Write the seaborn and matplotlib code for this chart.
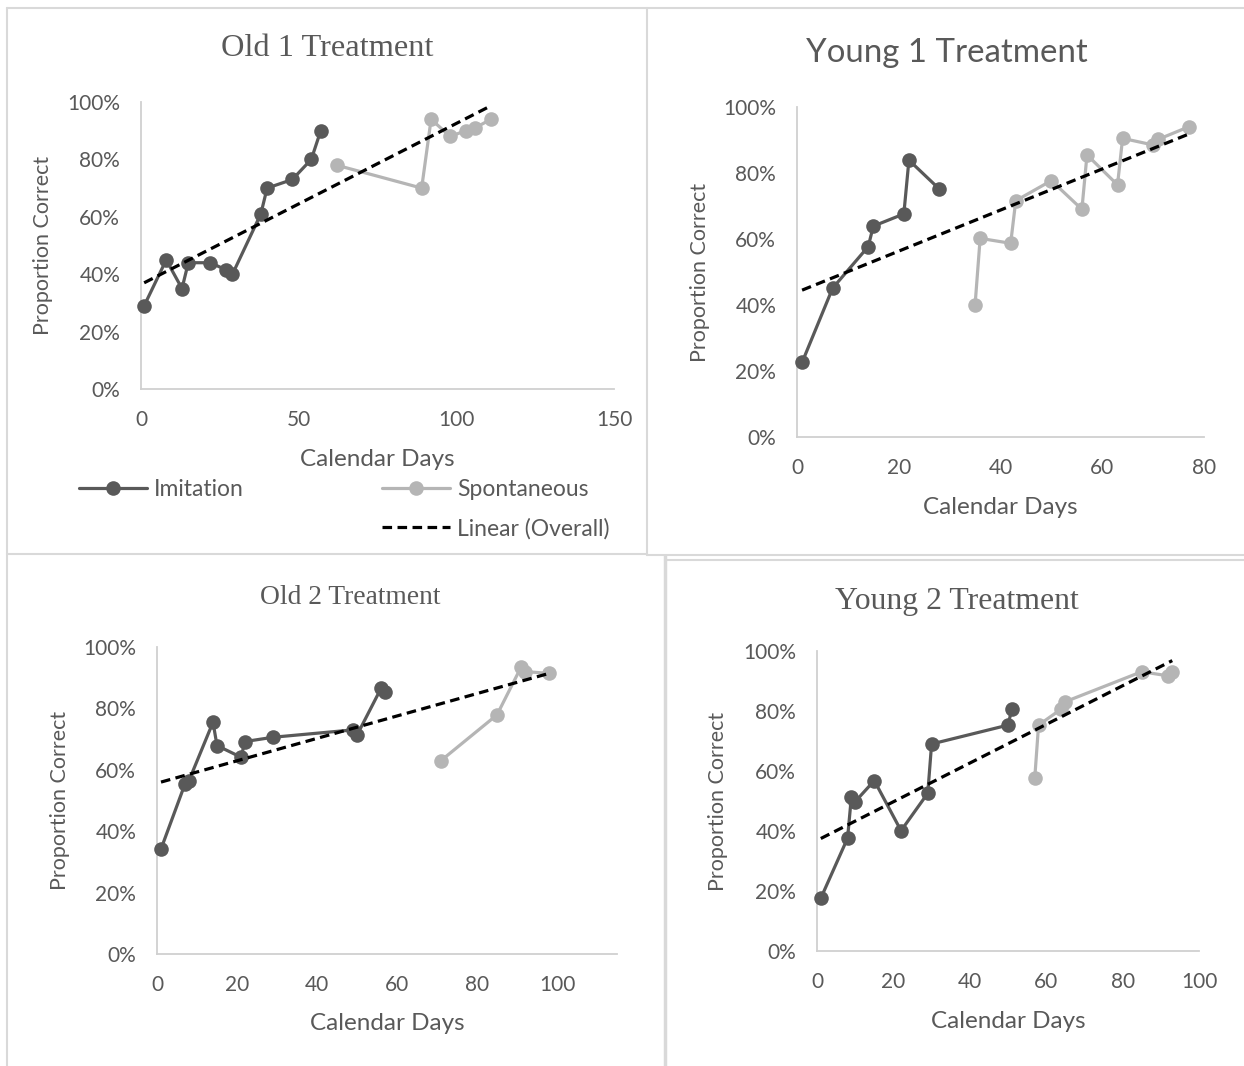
import matplotlib
matplotlib.use("Agg")
import matplotlib.pyplot as plt
import matplotlib.ticker as mticker
from matplotlib.lines import Line2D
import seaborn as sns

# ---------------- data ----------------
old1_imit_days = [1, 8, 13, 15, 22, 27, 29, 38, 40, 48, 54, 57]
old1_imit = [0.29, 0.45, 0.35, 0.44, 0.44, 0.415, 0.40, 0.61, 0.70, 0.73, 0.80, 0.90]
old1_spont_days = [62, 89, 92, 98, 103, 106, 111]
old1_spont = [0.78, 0.70, 0.94, 0.88, 0.90, 0.91, 0.94]
old1_trend_days = [1, 111]
old1_trend = [0.37, 0.987]

young1_imit_days = [1, 7, 14, 15, 21, 22, 28]
young1_imit = [0.226, 0.451, 0.577, 0.639, 0.676, 0.839, 0.751]
young1_spont_days = [35, 36, 42, 43, 50, 56, 57, 63, 64, 70, 71, 77]
young1_spont = [0.40, 0.602, 0.587, 0.716, 0.777, 0.69, 0.855, 0.764, 0.905, 0.885, 0.902, 0.94]
young1_trend_days = [1, 77]
young1_trend = [0.445, 0.918]

old2_imit_days = [1, 7, 8, 14, 15, 21, 22, 29, 49, 50, 56, 57]
old2_imit = [0.342, 0.554, 0.565, 0.755, 0.679, 0.641, 0.692, 0.706, 0.73, 0.713, 0.865, 0.854]
old2_spont_days = [71, 85, 91, 92, 98]
old2_spont = [0.63, 0.779, 0.934, 0.92, 0.914]
old2_trend_days = [1, 98]
old2_trend = [0.56, 0.914]

young2_imit_days = [1, 8, 9, 10, 15, 22, 29, 30, 50, 51]
young2_imit = [0.176, 0.376, 0.514, 0.498, 0.568, 0.401, 0.526, 0.69, 0.753, 0.806]
young2_spont_days = [57, 58, 64, 65, 85, 92, 93]
young2_spont = [0.576, 0.753, 0.807, 0.831, 0.931, 0.917, 0.931]
young2_trend_days = [1, 93]
young2_trend = [0.375, 0.968]

titles = ["Old 1 Treatment", "Young 1 Treatment", "Old 2 Treatment", "Young 2 Treatment"]
legend_labels = ["Imitation", "Spontaneous", "Linear (Overall)"]
x_label = "Calendar Days"
y_label = "Proportion Correct"

# ---------------- style ----------------
sns.set_style("white")
plt.rcParams["font.family"] = ["Lato", "DejaVu Sans"]

W, H = 1244, 1066
fig = plt.figure(figsize=(W / 100, H / 100), dpi=100)

IMIT_C = "#595959"
SPONT_C = "#b5b5b5"
TEXT_C = "#595959"
SPINE_C = "#d0d0d0"
BORDER_C = "#d9d9d9"
SANS = ["Lato", "DejaVu Sans"]
SERIF = ["Liberation Serif", "DejaVu Serif"]


def add_ax(left, right, top, bottom):
    return fig.add_axes([left / W, 1 - bottom / H, (right - left) / W, (bottom - top) / H])


def style_panel(ax, px, xlim, xticks, title, title_font, title_size, title_xy,
                xlabel_y, ylabel_x):
    left, right, top, bottom = px
    ax.set_xlim(*xlim)
    ax.set_ylim(0, 1)
    ax.set_xticks(xticks)
    ax.set_yticks([0, 0.2, 0.4, 0.6, 0.8, 1.0])
    ax.yaxis.set_major_formatter(mticker.PercentFormatter(1.0, decimals=0))
    for s in ["top", "right"]:
        ax.spines[s].set_visible(False)
    for s in ["left", "bottom"]:
        ax.spines[s].set_color(SPINE_C)
        ax.spines[s].set_linewidth(1.3)
    ax.tick_params(axis="both", length=0, labelsize=15, labelcolor=TEXT_C, pad=15)
    for lab in ax.get_xticklabels() + ax.get_yticklabels():
        lab.set_family(SANS)
    ax.set_xlabel(x_label, fontsize=17.5, color=TEXT_C, family=SANS, va="center")
    ax.set_ylabel(y_label, fontsize=15.5, color=TEXT_C, family=SANS, va="center")
    ax.xaxis.set_label_coords(0.5, (bottom - xlabel_y) / (bottom - top))
    ax.yaxis.set_label_coords((ylabel_x - left) / (right - left), 0.5)
    tx, ty = title_xy
    ax.text((tx - left) / (right - left), (bottom - ty) / (bottom - top), title,
            transform=ax.transAxes, ha="center", va="center",
            fontsize=title_size, color=TEXT_C, family=title_font)
    ax.grid(False)
    ax.set_facecolor("none")


def draw_series(ax, idays, ivals, sdays, svals, tdays, tvals):
    sns.lineplot(x=idays, y=ivals, ax=ax, color=IMIT_C, marker="o", markersize=10.5,
                 markeredgewidth=0, linewidth=2.3, sort=False, label=legend_labels[0],
                 clip_on=False, zorder=3)
    sns.lineplot(x=sdays, y=svals, ax=ax, color=SPONT_C, marker="o", markersize=10.5,
                 markeredgewidth=0, linewidth=2.3, sort=False, label=legend_labels[1],
                 clip_on=False, zorder=3)
    sns.lineplot(x=tdays, y=tvals, ax=ax, color="black", linewidth=2.3, sort=False,
                 label=legend_labels[2], clip_on=False, zorder=4)
    ax.lines[-1].set_dashes([3.0, 1.7])
    leg = ax.get_legend()
    if leg is not None:
        leg.remove()


panels = [
    dict(px=(141, 614, 102, 389), xlim=(0, 150), xticks=[0, 50, 100, 150],
         data=(old1_imit_days, old1_imit, old1_spont_days, old1_spont, old1_trend_days, old1_trend),
         title_font=SERIF, title_size=23.3, title_xy=(327, 49), xlabel_y=460, ylabel_x=43),
    dict(px=(797, 1204, 107, 437), xlim=(0, 80), xticks=[0, 20, 40, 60, 80],
         data=(young1_imit_days, young1_imit, young1_spont_days, young1_spont, young1_trend_days, young1_trend),
         title_font=SANS, title_size=23.8, title_xy=(947, 53), xlabel_y=508, ylabel_x=700),
    dict(px=(157, 617, 647, 954), xlim=(0, 115), xticks=[0, 20, 40, 60, 80, 100],
         data=(old2_imit_days, old2_imit, old2_spont_days, old2_spont, old2_trend_days, old2_trend),
         title_font=SERIF, title_size=19.8, title_xy=(350, 597), xlabel_y=1024, ylabel_x=60),
    dict(px=(817, 1199, 651, 951), xlim=(0, 100), xticks=[0, 20, 40, 60, 80, 100],
         data=(young2_imit_days, young2_imit, young2_spont_days, young2_spont, young2_trend_days, young2_trend),
         title_font=SERIF, title_size=22.9, title_xy=(957, 601), xlabel_y=1022, ylabel_x=718),
]

axes = []
for i, p in enumerate(panels):
    ax = add_ax(*p["px"])
    draw_series(ax, *p["data"])
    style_panel(ax, p["px"], p["xlim"], p["xticks"], titles[i], p["title_font"],
                p["title_size"], p["title_xy"], p["xlabel_y"], p["ylabel_x"])
    axes.append(ax)

# legend below the first panel
h = axes[0].lines
blank = Line2D([], [], color="none")
handles = [h[0], blank, h[1], h[2]]
labels = [legend_labels[0], "", legend_labels[1], legend_labels[2]]
fig.legend(handles, labels, ncol=2, loc="upper left",
           bbox_to_anchor=(58 / W, 1 - 458 / H), bbox_transform=fig.transFigure,
           frameon=False, labelcolor=TEXT_C, handlelength=3.0,
           handletextpad=0.3, columnspacing=6.0, labelspacing=0.8,
           prop={"family": SANS, "size": 16.5})

# chart borders (four separate chart boxes)
def fline(x0, y0, x1, y1, lw=1.5):
    fig.add_artist(Line2D([x0 / W, x1 / W], [1 - y0 / H, 1 - y1 / H],
                          transform=fig.transFigure, color=BORDER_C, linewidth=lw))

fline(7, 8, 1244, 8)
fline(7, 8, 7, 1066)
fline(647, 8, 647, 555)
fline(7, 554, 647, 554)
fline(647, 555, 1244, 555)
fline(665, 556, 665, 1066, lw=2.5)
fline(665, 560, 1244, 560)

fig.savefig("out.png", dpi=100, facecolor="white")
